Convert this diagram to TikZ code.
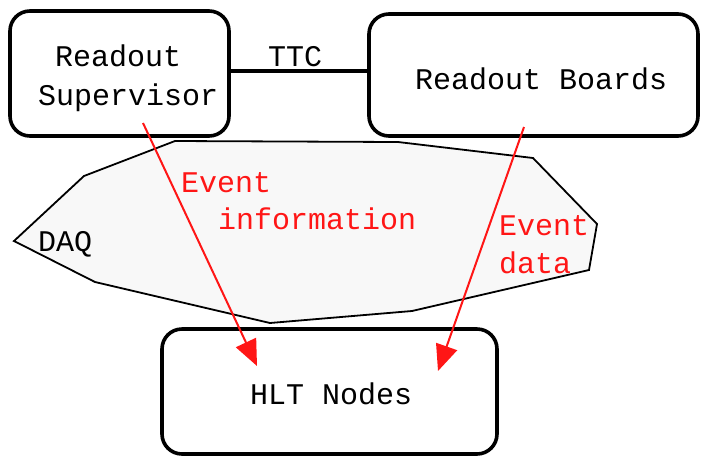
\documentclass[tikz,border=0pt]{standalone}
\usepackage{fontspec}
\newfontfamily\cour{Liberation Mono}
\usetikzlibrary{arrows.meta}
\definecolor{arrred}{RGB}{255,22,22}
\definecolor{daqfill}{RGB}{248,248,248}
\begin{document}
\begin{tikzpicture}[x=1pt,y=-1pt,
  box/.style={draw=black, line width=3.6pt, rounded corners=20pt, inner sep=0pt},
  lbl/.style={font=\cour\fontsize{30}{36}\selectfont, inner sep=0pt, anchor=base west},
  rlbl/.style={lbl, text=arrred},
  flow/.style={draw=arrred, line width=2pt, -{Triangle[length=26pt,width=22pt]}}]
\useasboundingbox (0,0) rectangle (703,456);
% DAQ area
\draw[fill=daqfill, line width=1.8pt, line join=miter]
  (14,241) -- (84,176) -- (175,141) -- (398,142) -- (533,158) -- (597,224)
  -- (589,270) -- (412,311) -- (270,323) -- (95,282) -- cycle;
% boxes
\node[box, minimum width=219pt, minimum height=125pt] (sup) at (119.5,73.5) {};
\node[box, minimum width=329pt, minimum height=122pt] (brd) at (533.5,75) {};
\node[box, minimum width=335pt, minimum height=125pt] (hlt) at (329.5,391.5) {};
% texts
\node[lbl] (t1) at (55,66) {Readout};
\node[lbl] (t2) at (38,105) {Supervisor};
\node[lbl] (t3) at (415,89) {Readout Boards};
\node[lbl] (t4) at (250,404) {HLT Nodes};
\node[lbl] (ttcl) at (268,66) {TTC};
\node[lbl] (daq) at (38,251) {DAQ};
\node[rlbl] (e1) at (181,192) {Event};
\node[rlbl] (e2) at (218,229) {information};
\node[rlbl] (e3) at (499,235) {Event};
\node[rlbl] (e4) at (499,273) {data};
% TTC link
\coordinate (ttc) at (300,71);
\draw[line width=3.6pt] (sup.east |- ttc) -- (brd.west |- ttc);
% flows
\coordinate (s1) at (143,123);
\coordinate (d1) at (257,366);
\coordinate (s2) at (524,127);
\coordinate (d2) at (438,371);
\draw[flow] (s1) -- (d1);
\draw[flow] (s2) -- (d2);
\end{tikzpicture}
\end{document}
